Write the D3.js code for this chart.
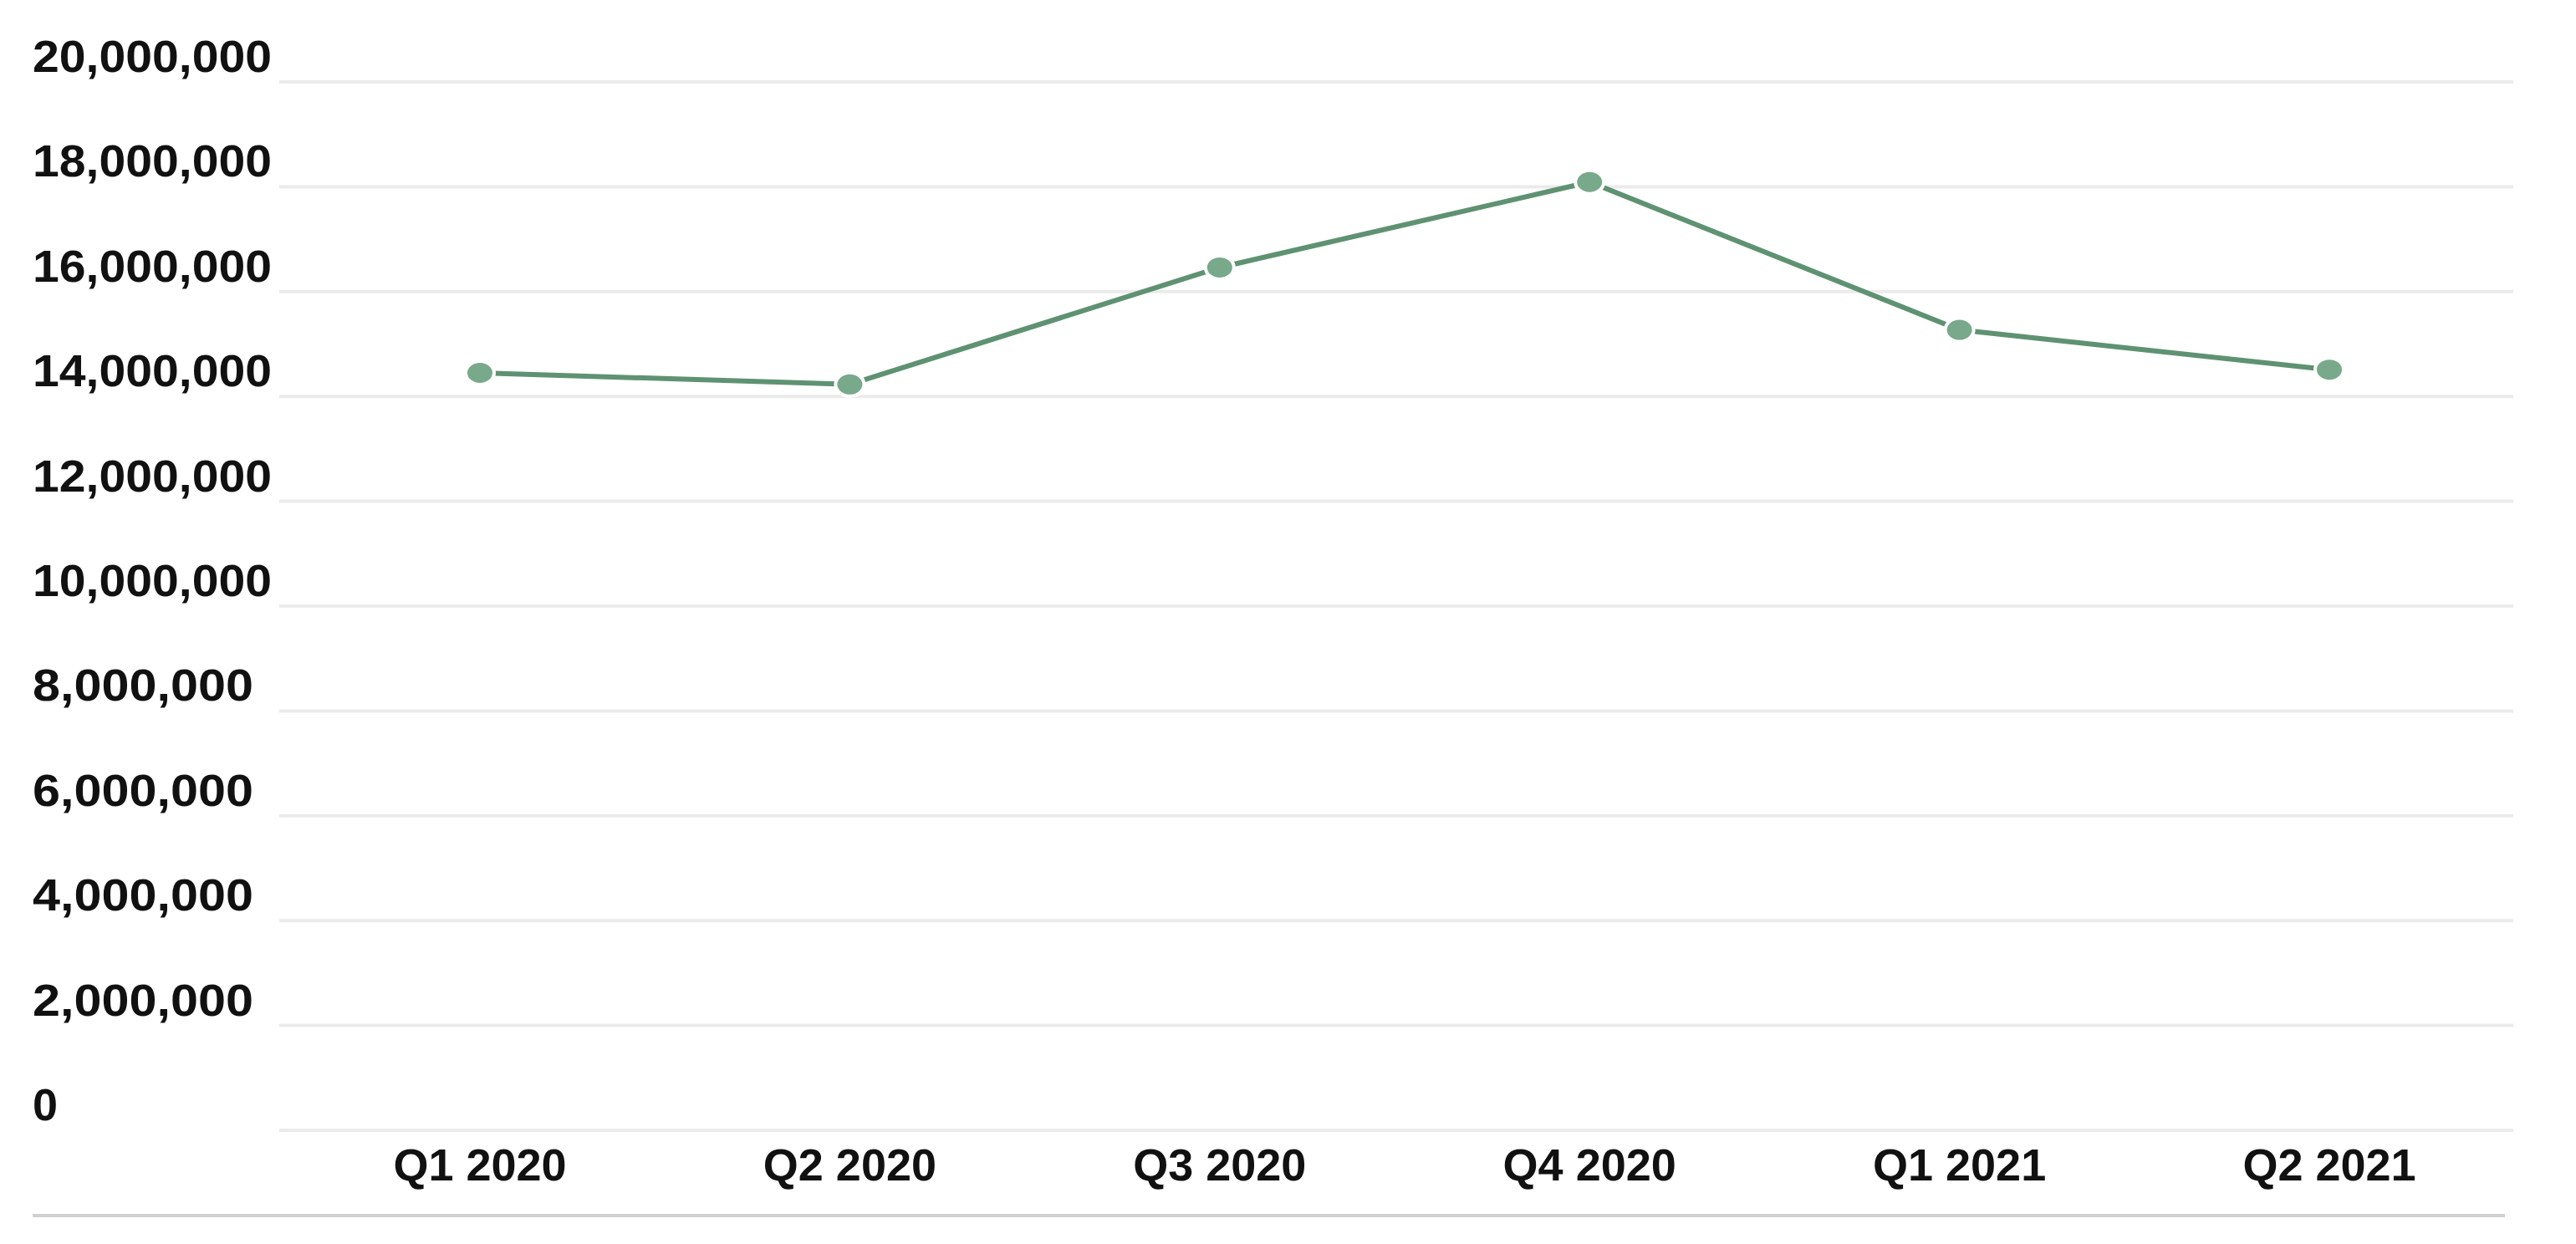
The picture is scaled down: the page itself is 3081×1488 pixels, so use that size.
<!DOCTYPE html>
<html>
<head>
<meta charset="utf-8">
<script src="https://cdn.jsdelivr.net/npm/d3@7"></script>
<style>
  body { margin: 0; background: #fff; }
  text { font-family: "Liberation Sans", Arial, sans-serif; font-weight: bold; fill: #111; }
</style>
</head>
<body>
<div id="root"></div>
<script>
const quarters = ['Q1 2020', 'Q2 2020', 'Q3 2020', 'Q4 2020', 'Q1 2021', 'Q2 2021']
const values = [14450000, 14230000, 16460000, 18090000, 15270000, 14510000]
const yTicks = [0, 2000000, 4000000, 6000000, 8000000, 10000000, 12000000, 14000000, 16000000, 18000000, 20000000]

const width = 3081
const height = 1488

const svg = d3.select('#root').append('svg')
  .attr('width', width)
  .attr('height', height)

const x = d3.scalePoint().domain(quarters).range([574, 2786])
const y = d3.scaleLinear().domain([0, 20000000]).range([1352, 98])

// grid lines
svg.append('g').selectAll('line')
  .data(yTicks)
  .enter().append('line')
  .attr('x1', 334).attr('x2', 3006)
  .attr('y1', (d) => y(d)).attr('y2', (d) => y(d))
  .attr('stroke', '#ebebeb').attr('stroke-width', 4)

// y labels
svg.append('g').selectAll('text')
  .data(yTicks)
  .enter().append('text')
  .attr('x', 39)
  .attr('y', (d) => y(d) - 12)
  .attr('font-size', 54)
  .attr('textLength', (d) => d === 0 ? null : (d >= 10000000 ? 286 : 264))
  .attr('lengthAdjust', 'spacingAndGlyphs')
  .text((d) => d3.format(',')(d))

// x labels
svg.append('g').selectAll('text')
  .data(quarters)
  .enter().append('text')
  .attr('x', (d) => x(d))
  .attr('y', 1412)
  .attr('text-anchor', 'middle')
  .attr('font-size', 54)
  .text((d) => d)

// bottom rule
svg.append('line')
  .attr('x1', 39).attr('x2', 2996)
  .attr('y1', 1454).attr('y2', 1454)
  .attr('stroke', '#d0d0d0').attr('stroke-width', 4)

const line = d3.line()
  .x((d, i) => x(quarters[i]))
  .y((d) => y(d))

svg.append('path')
  .datum(values)
  .attr('d', line)
  .attr('fill', 'none')
  .attr('stroke', '#5e9272')
  .attr('stroke-width', 6)

svg.append('g').selectAll('ellipse')
  .data(values)
  .enter().append('ellipse')
  .attr('cx', (d, i) => x(quarters[i]))
  .attr('cy', (d) => y(d))
  .attr('rx', 17).attr('ry', 14)
  .attr('fill', '#78a98a')
  .attr('stroke', '#fff')
  .attr('stroke-width', 4)
</script>
</body>
</html>
